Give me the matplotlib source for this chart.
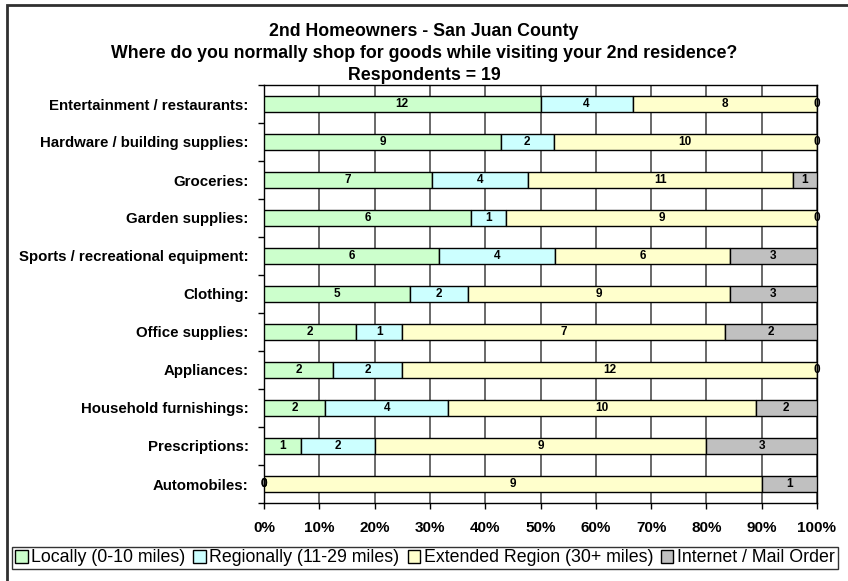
import numpy as np
import matplotlib
matplotlib.use('Agg')
import matplotlib.pyplot as plt
from matplotlib.patches import Rectangle, Patch

plt.rcParams['font.family'] = ['Liberation Sans', 'DejaVu Sans']

# Survey answers (counts per category)
categories = ['Entertainment / restaurants:', 'Hardware / building supplies:',
              'Groceries:', 'Garden supplies:', 'Sports / recreational equipment:',
              'Clothing:', 'Office supplies:', 'Appliances:',
              'Household furnishings:', 'Prescriptions:', 'Automobiles:']
locally = [12, 9, 7, 6, 6, 5, 2, 2, 2, 1, 0]
regionally = [4, 2, 4, 1, 4, 2, 1, 2, 4, 2, 0]
extended = [8, 10, 11, 9, 6, 9, 7, 12, 10, 9, 9]
internet = [0, 0, 1, 0, 3, 3, 2, 0, 2, 3, 1]

series_names = ['Locally (0-10 miles)', 'Regionally (11-29 miles)',
                'Extended Region (30+ miles)', 'Internet / Mail Order']
colors = ['#CCFFCC', '#CCFFFF', '#FFFFCC', '#C0C0C0']
xtick_labels = ['0%', '10%', '20%', '30%', '40%', '50%', '60%', '70%', '80%', '90%', '100%']

W, H = 848, 581
fig = plt.figure(figsize=(W / 100, H / 100), dpi=100)

# plot area in pixels
left, right, top, bottom = 264, 817, 85, 503
ax = fig.add_axes([left / W, 1 - bottom / H, (right - left) / W, (bottom - top) / H])

counts = np.array([locally, regionally, extended, internet], dtype=float)
totals = counts.sum(axis=0)
shares = counts / totals * 100

y = np.arange(len(categories))
start = np.zeros(len(categories))
for i in range(4):
    ax.barh(y, shares[i], left=start, height=0.42, color=colors[i],
            edgecolor='black', linewidth=1, zorder=3)
    for j in range(len(categories)):
        ax.text(start[j] + shares[i][j] / 2, y[j], '%d' % counts[i][j],
                ha='center', va='center', fontsize=8.5, fontweight='bold', zorder=4)
    start = start + shares[i]

ax.set_xlim(0, 100)
ax.set_ylim(len(categories) - 0.5, -0.5)
ax.set_xticks(np.arange(0, 101, 10))
ax.set_xticklabels(xtick_labels, fontsize=11, fontweight='bold')
ax.set_yticks(y)
ax.set_yticklabels(categories, fontsize=10.8, fontweight='bold')
ax.set_yticks(np.arange(-0.5, len(categories), 1), minor=True)
ax.tick_params(axis='y', which='major', length=0, pad=11)
ax.tick_params(axis='y', which='minor', length=4, direction='out', width=1)
ax.tick_params(axis='x', length=4, direction='out', width=1, pad=9)
ax.grid(axis='x', color='#404040', linewidth=1.1, zorder=0)
for s in ax.spines.values():
    s.set_color('black')
    s.set_linewidth(1)

# titles
fig.text(0.5, 1 - 32 / H, '2nd Homeowners - San Juan County', ha='center', va='center',
         fontsize=12.8, fontweight='bold')
fig.text(0.5, 1 - 54 / H, 'Where do you normally shop for goods while visiting your 2nd residence?',
         ha='center', va='center', fontsize=12.8, fontweight='bold')
fig.text(0.5, 1 - 75 / H, 'Respondents = 19', ha='center', va='center',
         fontsize=12.8, fontweight='bold')

# legend
handles = [Patch(facecolor=c, edgecolor='black', linewidth=1) for c in colors]
leg = fig.legend(handles, series_names, loc='center', ncol=4,
                 bbox_to_anchor=(425 / W, 1 - 558 / H), fontsize=12.8,
                 frameon=True, fancybox=False, edgecolor='black',
                 handlelength=0.7, handleheight=0.7, handletextpad=0.2,
                 columnspacing=0.45, borderpad=0.15, borderaxespad=0)
leg.get_frame().set_linewidth(1)

# outer chart border
fig.add_artist(Rectangle((7 / W, -0.05), 2, 1 - 5 / H + 0.05, transform=fig.transFigure,
                         fill=False, edgecolor='#303030', linewidth=2))

plt.savefig('out.png', dpi=100)
